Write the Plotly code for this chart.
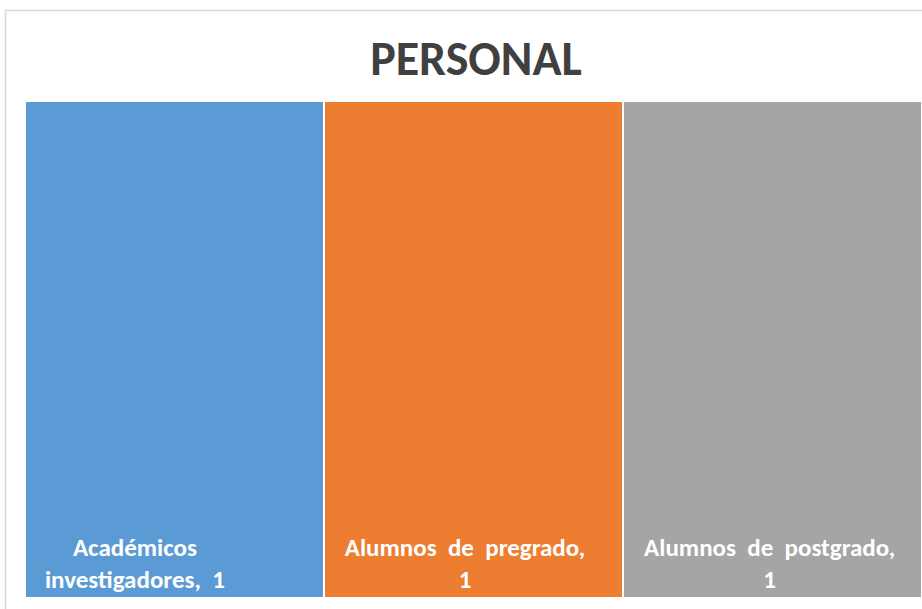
import plotly.graph_objects as go

categories = ["Académicos investigadores", "Alumnos de pregrado", "Alumnos de postgrado"]
values = [1, 1, 1]
colors = ["#5B9BD5", "#ED7D31", "#A5A5A5"]
title_text = "PERSONAL"

# where each label wraps onto a second line (word index)
wrap_at = [1, 3, 3]
# trailing padding (nbsp count) that nudges a label left like the original
nudge = [14, 3, 1]

texts = []
for cat, v, w, n in zip(categories, values, wrap_at, nudge):
    words = (cat + ", " + str(v)).split(" ")
    pad = "&nbsp;" * n
    texts.append("<b>" + "&nbsp; ".join(words[:w]) + pad + "<br>"
                 + "&nbsp; ".join(words[w:]) + pad + "</b>")

font_family = "Carlito, Lato, Open Sans, sans-serif"

fig = go.Figure(go.Treemap(
    labels=categories,
    parents=[""] * len(categories),
    values=values,
    text=texts,
    texttemplate="%{text}",
    textposition="bottom center",
    tiling=dict(packing="dice", pad=0),
    marker=dict(colors=colors, line=dict(color="white", width=2),
                pad=dict(t=0, l=0, r=0, b=0)),
    textfont=dict(family=font_family, size=25, color="white"),
    insidetextfont=dict(family=font_family, size=25, color="white"),
    pathbar=dict(visible=False),
    sort=False,
    hoverinfo="label+value",
))

fig.update_layout(
    width=922, height=609,
    margin=dict(l=25, r=0, t=101, b=11),
    paper_bgcolor="white",
    title=dict(text="<b>" + title_text + "</b>", x=476 / 922, xref="container", y=1 - 58 / 609,
               yref="container", yanchor="middle", xanchor="center",
               font=dict(family=font_family, size=48, color="#404040")),
    shapes=[dict(type="rect", xref="paper", yref="paper",
                 x0=(5.5 - 25) / 897, x1=1.1, y0=-0.1, y1=(598 - 10.5) / 497,
                 line=dict(color="#D9D9D9", width=1.5), fillcolor="rgba(0,0,0,0)",
                 layer="above")],
)

fig.write_html("out.html", config={"displayModeBar": False},
               post_script="document.body.style.margin='0';")
